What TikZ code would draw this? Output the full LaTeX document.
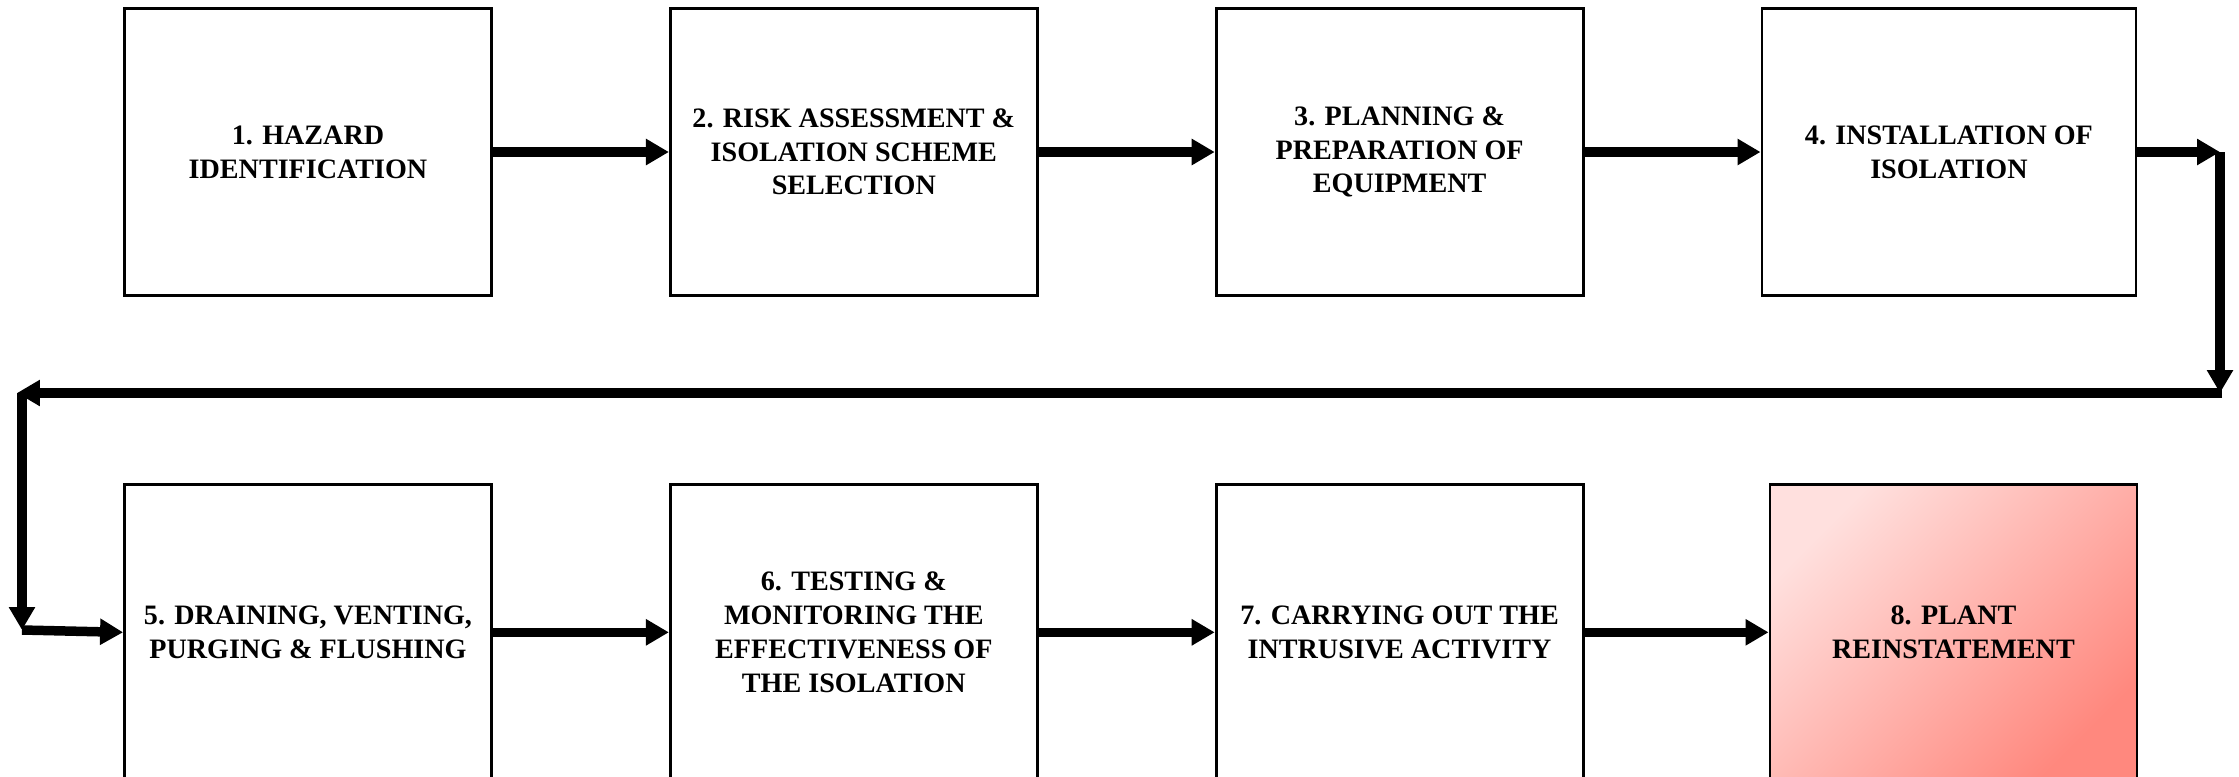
\documentclass[tikz,border=0pt]{standalone}
\usepackage{fontspec}
\setmainfont{Liberation Serif}
\usepackage{tikz}
\usetikzlibrary{arrows.meta, positioning, calc}
\usepackage{xcolor}
\definecolor{palepink}{RGB}{255,224,222}
\definecolor{salmonred}{RGB}{255,136,126}

\begin{document}
\begin{tikzpicture}[
    node distance=1.86cm and 1.76cm,
    stage/.style={rectangle, draw=black, line width=0.8pt, fill=white, minimum width=3.67cm, minimum height=2.87cm, align=center, font=\fontsize{8}{9.6}\selectfont\bfseries},
    lowstage/.style={stage, minimum height=2.96cm},
    flow/.style={-{Triangle[length=0.23cm, width=0.25cm]}, line width=0.095cm},
]
    \path[use as bounding box, clip] (0,0) rectangle (22.39,-7.76);

    % Top row
    \node[stage] (hazard) at (3.08,-1.52) {1. HAZARD\\IDENTIFICATION};
    \node[stage, right=of hazard] (risk) {2. RISK ASSESSMENT \&\\ISOLATION SCHEME\\SELECTION};
    \node[stage, right=of risk] (planning) {3. PLANNING \&\\PREPARATION OF\\EQUIPMENT};
    \node[stage, right=of planning, minimum width=3.74cm] (install) {4. INSTALLATION OF\\ISOLATION};

    % Bottom row
    \node[lowstage, below=of hazard] (draining) {5. DRAINING, VENTING,\\PURGING \& FLUSHING};
    \node[lowstage, right=of draining] (testing) {6. TESTING \&\\MONITORING THE\\EFFECTIVENESS OF\\THE ISOLATION};
    \node[lowstage, right=of testing] (intrusive) {7. CARRYING OUT THE\\INTRUSIVE ACTIVITY};
    \node[lowstage, right=1.84cm of intrusive, shading=axis, top color=palepink, bottom color=salmonred, shading angle=45] (reinstate) {8. PLANT\\REINSTATEMENT};

    % Turning points of the return path
    \coordinate (turnA) at (22.20,-1.52);
    \coordinate (turnB) at (22.20,-3.93);
    \coordinate (turnC) at (0.22,-3.93);
    \coordinate (turnD) at (0.22,-6.30);

    % Arrows along the rows
    \draw[flow] (hazard) -- (risk);
    \draw[flow] (risk) -- (planning);
    \draw[flow] (planning) -- (install);
    \draw[flow] (install.east) -- (turnA);
    \draw[flow] (turnA) -- (turnB);
    \draw[flow] ($(turnB)+(0.02,0)$) -- ($(turnC)+(-0.05,0)$);
    \draw[flow] (turnC) -- (turnD);
    \draw[flow] (turnD) -- (draining.west);
    \draw[flow] (draining) -- (testing);
    \draw[flow] (testing) -- (intrusive);
    \draw[flow] (intrusive) -- (reinstate);

\end{tikzpicture}
\end{document}
